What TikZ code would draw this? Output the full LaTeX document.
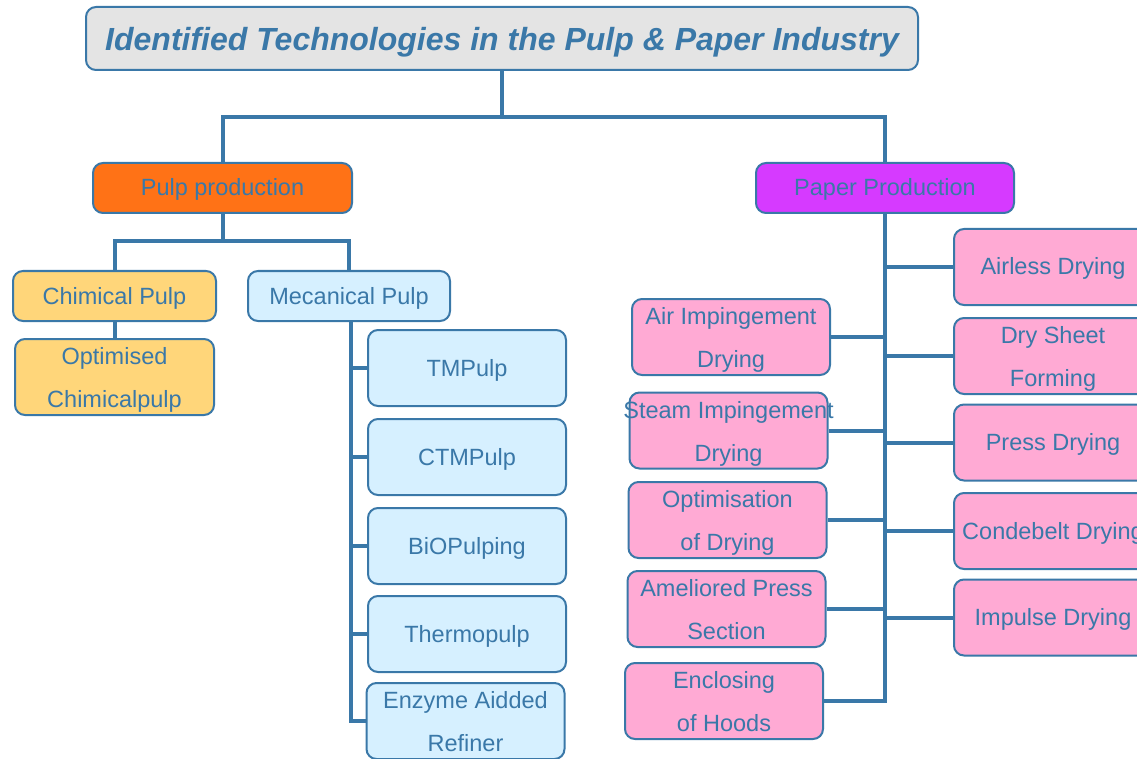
\documentclass[tikz,border=0pt]{standalone}
\usepackage{fontspec}
\setmainfont{Liberation Sans}
\definecolor{lc}{HTML}{3A78A8}
\definecolor{titlefill}{HTML}{E4E4E4}
\definecolor{orangefill}{HTML}{FF7216}
\definecolor{purplefill}{HTML}{D63AFF}
\definecolor{yellowfill}{HTML}{FFD67A}
\definecolor{bluefill}{HTML}{D6F0FF}
\definecolor{pinkfill}{HTML}{FFAAD4}
\newcommand{\twolines}[2]{\makebox[0pt]{\raisebox{25pt}{\smash{\begin{tabular}[t]{@{}c@{}}#1\\#2\end{tabular}}}}}
\tikzset{
  box/.style={draw=lc, line width=2pt, rounded corners=10pt, text=lc,
    font=\fontsize{23.5}{43}\selectfont, inner sep=0pt},
  oneline/.style={text height=21pt, text depth=5pt},
  small/.style={box, oneline, minimum height=50pt},
  big/.style={box, minimum width=198pt, minimum height=76pt},
  bigone/.style={big, oneline},
  conn/.style={draw=lc, line width=4pt},
}
\begin{document}
\begin{tikzpicture}[x=1pt,y=-1pt]
\useasboundingbox (0,0) rectangle (1137,759);
% title
\node[box, fill=titlefill, minimum width=832pt, minimum height=63pt,
  text height=31pt, text depth=6.7pt,
  font=\fontsize{32}{38}\selectfont\bfseries\itshape] (title) at (502,38.5)
  {Identified Technologies in the Pulp \& Paper Industry};
% level 1
\node[small, fill=orangefill, minimum width=259pt] (pulp) at (222.5,188) {Pulp production};
\node[small, fill=purplefill, minimum width=258pt] (paper) at (885,188) {Paper Production};
% pulp branch
\node[small, fill=yellowfill, minimum width=203pt] (chim) at (114.5,296) {Chimical Pulp};
\node[big, fill=yellowfill, minimum width=199pt] (opt) at (114.5,377) {\twolines{Optimised}{Chimicalpulp}};
\node[small, fill=bluefill, minimum width=202pt] (mec) at (349,296) {Mecanical Pulp};
\node[bigone, fill=bluefill] (tmp) at (467,368) {TMPulp};
\node[bigone, fill=bluefill] (ctmp) at (467,457) {CTMPulp};
\node[bigone, fill=bluefill] (bio) at (467,546) {BiOPulping};
\node[bigone, fill=bluefill] (thermo) at (467,634) {Thermopulp};
\node[big, fill=bluefill] (enz) at (465.5,721) {\twolines{Enzyme Aidded}{Refiner}};
% paper branch right
\node[bigone, fill=pinkfill] (airless) at (1053,267) {Airless Drying};
\node[big, fill=pinkfill] (drysheet) at (1053,356) {\twolines{Dry Sheet}{Forming}};
\node[bigone, fill=pinkfill] (press) at (1053,442.5) {Press Drying};
\node[bigone, fill=pinkfill] (conde) at (1053,531) {Condebelt Drying};
\node[bigone, fill=pinkfill] (impulse) at (1053,617.5) {Impulse Drying};
% paper branch left
\node[big, fill=pinkfill] (airimp) at (731,337) {\twolines{Air Impingement}{Drying}};
\node[big, fill=pinkfill] (steam) at (728.5,430.5) {\twolines{Steam Impingement}{Drying}};
\node[big, fill=pinkfill] (optdry) at (727.5,520) {\twolines{Optimisation}{of Drying}};
\node[big, fill=pinkfill] (amel) at (726.5,609) {\twolines{Ameliored Press}{Section}};
\node[big, fill=pinkfill] (encl) at (724,701) {\twolines{Enclosing}{of Hoods}};
% junctions
\coordinate (tj) at (502,117);
\coordinate (pj) at (222.5,241);
% connectors
\draw[conn] (title.south) -- (tj) -| (pulp.north);
\draw[conn] (tj) -| (paper.north);
\draw[conn] (pulp.south) -- (pj) -| (chim.north);
\draw[conn] (pj) -| (mec.north);
\draw[conn] (chim.south) -- (opt.north);
\foreach \n in {tmp,ctmp,bio,thermo,enz}
  \draw[conn] ([xshift=2pt]mec.south) |- (\n.west);
\foreach \n in {airless,drysheet,press,conde,impulse}
  \draw[conn] (paper.south) |- (\n.west);
\foreach \n in {airimp,steam,optdry,amel,encl}
  \draw[conn] (paper.south) |- (\n.east);
\end{tikzpicture}
\end{document}
